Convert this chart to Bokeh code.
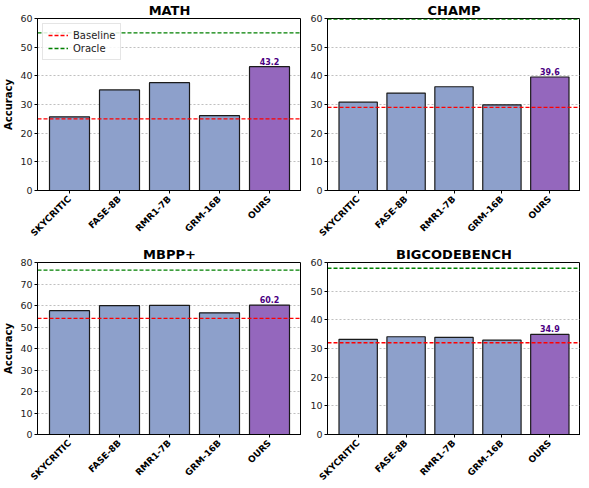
import math
from bokeh.plotting import figure
from bokeh.layouts import column, row
from bokeh.models import FixedTicker, Range1d, Legend, LegendItem
from bokeh.core.properties import value
from bokeh.embed import file_html
from bokeh.resources import INLINE

methods = ["SKYCRITIC", "FASE-8B", "RMR1-7B", "GRM-16B", "OURS"]

math_vals = [25.7, 35.1, 37.6, 26.1, 43.2]
math_baseline = 25.0
math_oracle = 55.0

champ_vals = [30.8, 34.0, 36.2, 29.9, 39.6]
champ_baseline = 29.0
champ_oracle = 59.8

mbpp_vals = [57.6, 59.9, 60.1, 56.6, 60.2]
mbpp_baseline = 54.0
mbpp_oracle = 76.5

bcb_vals = [33.2, 34.1, 33.9, 32.9, 34.9]
bcb_baseline = 32.0
bcb_oracle = 58.0

FONT = "DejaVu Sans"
BAR_COLOR = "#8da0cb"
OURS_COLOR = "#9467bd"


def panel(title, vals, baseline, oracle, ymax, left_label, legend, fw, mbl):
    n = len(methods)
    xs = list(range(n))
    x_lo, x_hi = -0.4 - 0.24, (n - 1) + 0.4 + 0.24
    p = figure(frame_width=fw, frame_height=172, output_backend="svg",
               toolbar_location=None, x_range=Range1d(x_lo, x_hi),
               y_range=Range1d(0, ymax), min_border_left=mbl,
               min_border_right=0, min_border_top=0, min_border_bottom=0)
    p.title.text = title
    p.title.align = "center"
    p.title.text_font = FONT
    p.title.text_font_size = "13px"
    p.title.text_font_style = "bold"
    p.title.text_color = "black"
    p.title.standoff = 1
    p.title.offset = 0

    colors = [BAR_COLOR] * (n - 1) + [OURS_COLOR]
    p.vbar(x=xs, top=vals, width=0.8, fill_color=colors, line_color="#1a1a1a",
           line_width=1.2)

    r_b = p.line(x=[x_lo, x_hi], y=[baseline, baseline], line_color="#ff0000",
                 line_dash="4 2", line_width=1.3)
    r_o = p.line(x=[x_lo, x_hi], y=[oracle, oracle], line_color="#008000",
                 line_dash="4 2", line_width=1.3)

    p.text(x=[xs[-1]], y=[vals[-1]], text=[f"{vals[-1]:.1f}"],
           text_align="center", text_baseline="bottom", y_offset=-2,
           text_font=value(FONT), text_font_size="8px",
           text_font_style="bold", text_color="#4b0082")

    p.xaxis.ticker = FixedTicker(ticks=xs)
    p.xaxis.major_label_overrides = {i: m for i, m in enumerate(methods)}
    p.xaxis.major_label_orientation = math.pi / 4
    p.xaxis.major_label_text_font = FONT
    p.xaxis.major_label_text_font_size = "9px"
    p.xaxis.major_label_text_font_style = "bold"
    p.xaxis.major_label_text_color = "black"
    p.xaxis.major_label_standoff = 4

    p.yaxis.ticker = FixedTicker(ticks=list(range(0, ymax + 1, 10)))
    p.yaxis.major_label_text_font = FONT
    p.yaxis.major_label_text_font_size = "9.5px"
    p.yaxis.major_label_text_color = "#222222"
    p.yaxis.major_label_standoff = 2

    for ax in (p.xaxis, p.yaxis):
        ax.minor_tick_line_color = None
        ax.major_tick_in = 0
        ax.major_tick_out = 3
        ax.major_tick_line_color = "black"
        ax.axis_line_color = "black"
        ax.axis_line_width = 1

    if left_label:
        p.yaxis.axis_label = "Accuracy"
        p.yaxis.axis_label_text_font = FONT
        p.yaxis.axis_label_text_font_size = "10px"
        p.yaxis.axis_label_text_font_style = "bold"
        p.yaxis.axis_label_text_color = "black"
        p.yaxis.axis_label_standoff = 3

    p.xgrid.visible = False
    p.ygrid.grid_line_color = "#b0b0b0"
    p.ygrid.grid_line_dash = "2 2"
    p.ygrid.grid_line_alpha = 0.8

    p.outline_line_color = "black"
    p.outline_line_width = 1
    p.outline_line_alpha = 1

    if legend:
        lg = Legend(items=[LegendItem(label="Baseline", renderers=[r_b]),
                           LegendItem(label="Oracle", renderers=[r_o])],
                    location="top_left")
        lg.label_text_font = FONT
        lg.label_text_font_size = "10px"
        lg.label_text_color = "#222222"
        lg.glyph_width = 20
        lg.glyph_height = 12
        lg.label_height = 12
        lg.spacing = 1
        lg.padding = 5
        lg.margin = 5
        lg.border_line_color = "#cccccc"
        lg.background_fill_alpha = 0.85
        p.add_layout(lg)
    return p


p1 = panel("MATH", math_vals, math_baseline, math_oracle, 60, True, True, 264, 30)
p2 = panel("CHAMP", champ_vals, champ_baseline, champ_oracle, 60, False, False, 253, 26)
p3 = panel("MBPP+", mbpp_vals, mbpp_baseline, mbpp_oracle, 80, True, False, 264, 30)
p4 = panel("BIGCODEBENCH", bcb_vals, bcb_baseline, bcb_oracle, 60, False, False, 253, 26)

layout = column(row(p1, p2), row(p3, p4))
open("out.html", "w").write(file_html(layout, INLINE))
